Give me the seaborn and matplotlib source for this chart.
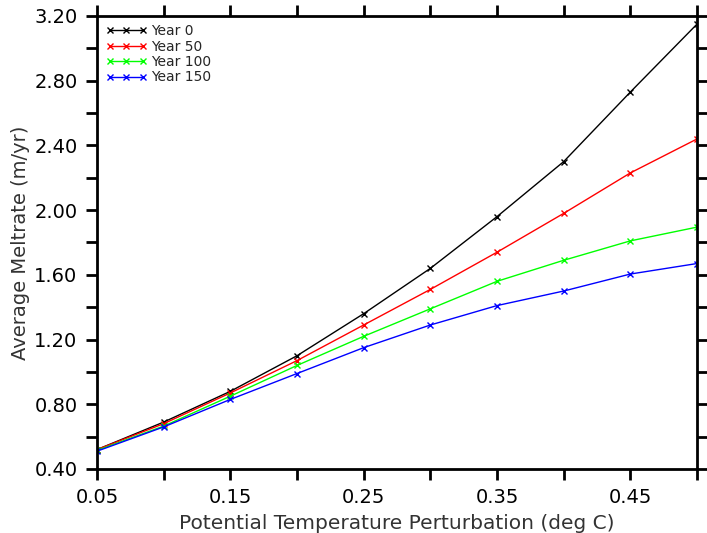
import numpy as np
import pandas as pd
import matplotlib
matplotlib.use("Agg")
import matplotlib.pyplot as plt
import seaborn as sns

temp_perturbation = [0.05, 0.10, 0.15, 0.20, 0.25, 0.30, 0.35, 0.40, 0.45, 0.50]
year_0 = [0.52, 0.69, 0.88, 1.10, 1.36, 1.64, 1.96, 2.30, 2.73, 3.15]
year_50 = [0.52, 0.68, 0.87, 1.07, 1.29, 1.51, 1.74, 1.98, 2.23, 2.44]
year_100 = [0.515, 0.665, 0.85, 1.04, 1.22, 1.39, 1.56, 1.69, 1.81, 1.895]
year_150 = [0.51, 0.66, 0.83, 0.99, 1.15, 1.29, 1.41, 1.50, 1.605, 1.67]
series_names = ["Year 0", "Year 50", "Year 100", "Year 150"]
series_colors = ["black", "red", "#00ff00", "blue"]

df = pd.DataFrame({
    "x": temp_perturbation * 4,
    "y": year_0 + year_50 + year_100 + year_150,
    "series": np.repeat(series_names, len(temp_perturbation)),
})

sns.set_style("ticks")
plt.rcParams["axes.edgecolor"] = "black"
plt.rcParams["xtick.color"] = "black"
plt.rcParams["ytick.color"] = "black"
fig = plt.figure(figsize=(7.07, 5.33), dpi=100)
ax = fig.add_axes([0.1372, 0.1201, 0.8487, 0.8499])

sns.lineplot(data=df, x="x", y="y", hue="series", palette=series_colors,
             hue_order=series_names, marker="x", markersize=5,
             linewidth=1, dashes=False, ax=ax)
# unfilled "x" markers need an edge colour to be visible
for line in ax.lines:
    line.set_markeredgecolor(line.get_color())
    line.set_markeredgewidth(1)

ax.set_xlim(0.05, 0.50)
ax.set_ylim(0.40, 3.20)
ax.set_xticks(np.arange(0.05, 0.501, 0.05))
ax.set_xticklabels(["0.05", "", "0.15", "", "0.25", "", "0.35", "", "0.45", ""])
yt = np.arange(0.40, 3.201, 0.20)
ax.set_yticks(yt)
ax.set_yticklabels([f"{v:.2f}" if i % 2 == 0 else "" for i, v in enumerate(yt)])

ax.tick_params(direction="out", length=8, width=2, labelsize=14, pad=6,
               top=True, right=True, labelcolor="black")
for s in ax.spines.values():
    s.set_linewidth(2)
    s.set_visible(True)
    s.set_color("black")

ax.set_xlabel("Potential Temperature Perturbation (deg C)", fontsize=14.5, color="#333333", labelpad=5)
ax.set_ylabel("Average Meltrate (m/yr)", fontsize=14, color="#333333", labelpad=3)

leg = ax.legend(loc="upper left", frameon=False, fontsize=10, numpoints=3,
                handlelength=3.0, handletextpad=0.3, labelspacing=0.1,
                borderaxespad=0.2)
for h in leg.legend_handles:
    h.set_marker("x")
    h.set_markeredgecolor(h.get_color())
    h.set_markersize(5)

fig.savefig("out.png", dpi=100)
